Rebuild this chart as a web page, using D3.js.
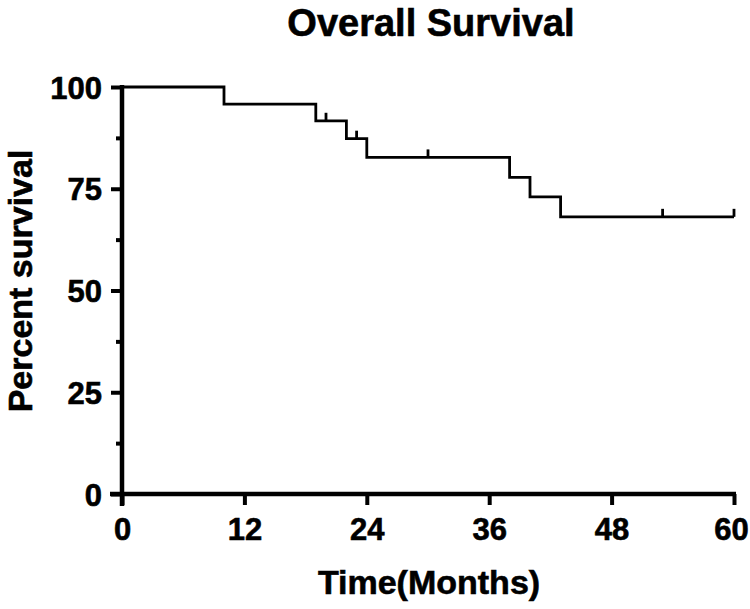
<!DOCTYPE html>
<html>
<head>
<meta charset="utf-8">
<script src="https://cdn.jsdelivr.net/npm/d3@7"></script>
<style>
  html, body { margin: 0; padding: 0; background: #fff; }
  text { font-family: "Liberation Sans", Arial, Helvetica, sans-serif; font-weight: bold; fill: #000; stroke: #000; stroke-width: 0.6px; }
</style>
</head>
<body>
<svg id="chart" width="750" height="609"></svg>
<script>
// Step points of the Kaplan-Meier curve (time in months, percent survival after the step)
const stepTimes = [0, 10, 19, 22, 24, 38, 40, 43];
const stepSurvival = [100, 95.8, 91.7, 87.3, 82.7, 77.8, 73.0, 68.1];
const endTime = 60;
// Censored observations (months)
const censorTimes = [20, 23, 30, 53, 60];
const xTicks = [0, 12, 24, 36, 48, 60];
const yTicks = [0, 25, 50, 75, 100];
const yMinorTicks = [12.5, 37.5, 62.5, 87.5];

const svg = d3.select("#chart");
const x = d3.scaleLinear().domain([0, 60]).range([122, 734]);
const y = d3.scaleLinear().domain([0, 100]).range([494, 87]);

// Title
svg.append("text").attr("x", 431).attr("y", 36).attr("text-anchor", "middle")
  .style("font-size", "38px").text("Overall Survival");

// Y axis label
svg.append("text").attr("transform", "translate(32,281) rotate(-90)")
  .attr("text-anchor", "middle").style("font-size", "34px").text("Percent survival");

// X axis label
svg.append("text").attr("x", 429).attr("y", 594).attr("text-anchor", "middle")
  .style("font-size", "34px").text("Time(Months)");

// Axes
const xAxis = d3.axisBottom(x).tickValues(xTicks).tickSize(11).tickSizeOuter(0).tickPadding(8);
const gx = svg.append("g").attr("transform", `translate(0,${y(0)})`).call(xAxis);
gx.select(".domain").attr("stroke-width", 4.5).attr("d", `M${x(0) - 12},0H${x(60) + 2}`);
gx.selectAll(".tick line").attr("stroke-width", 4);
gx.selectAll(".tick text").style("font-size", "31px").attr("dy", "0.86em")
  .attr("dx", d => d === 60 ? -3 : 0);

const yAxis = d3.axisLeft(y).tickValues(yTicks).tickSize(11).tickSizeOuter(0).tickPadding(9);
const gy = svg.append("g").attr("transform", `translate(${x(0)},0)`).call(yAxis);
gy.select(".domain").attr("stroke-width", 4.5).attr("d", `M0,${y(100) - 2}V${y(0) + 12}`);
gy.selectAll(".tick line").attr("stroke-width", 4);
gy.selectAll(".tick text").style("font-size", "31px").attr("dy", "0.36em");

const gyMinor = svg.append("g").attr("transform", `translate(${x(0)},0)`)
  .call(d3.axisLeft(y).tickValues(yMinorTicks).tickSize(6).tickFormat(""));
gyMinor.select(".domain").remove();
gyMinor.selectAll(".tick line").attr("stroke-width", 4);

// Survival curve
const pts = stepTimes.map((t, i) => [t, stepSurvival[i]]);
pts.push([endTime, stepSurvival[stepSurvival.length - 1]]);
const line = d3.line().x(d => x(d[0])).y(d => y(d[1])).curve(d3.curveStepAfter);
svg.append("path").datum(pts).attr("d", line).attr("fill", "none")
  .attr("stroke", "#000").attr("stroke-width", 2.8);

// Censor marks
function survAt(t) {
  let s = stepSurvival[0];
  for (let i = 0; i < stepTimes.length; i++) if (stepTimes[i] <= t) s = stepSurvival[i];
  return s;
}
svg.selectAll(".censor").data(censorTimes).enter().append("line")
  .attr("x1", d => x(d)).attr("x2", d => x(d))
  .attr("y1", d => y(survAt(d))).attr("y2", d => y(survAt(d)) - 8)
  .attr("stroke", "#000").attr("stroke-width", 2.8);
</script>
</body>
</html>
